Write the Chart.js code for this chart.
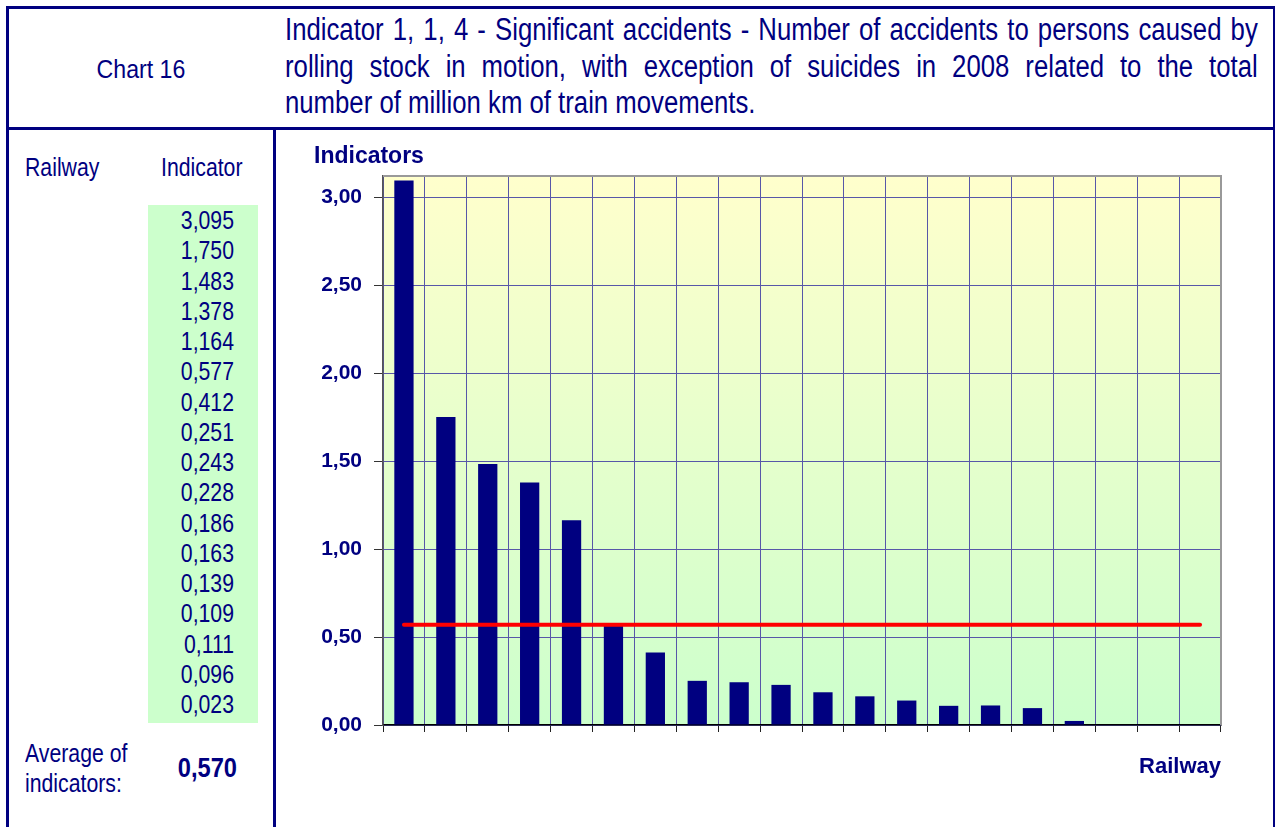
<!DOCTYPE html>
<html>
<head>
<meta charset="utf-8">
<script src="https://cdn.jsdelivr.net/npm/chart.js@4"></script>
<style>
  body { margin: 0; width: 1275px; height: 827px; overflow: hidden; background: #fff; position: relative;
         font-family: "Liberation Sans", Arial, sans-serif; color: #000080; }
  .ln { position: absolute; background: #000080; }
  .txt { position: absolute; font-size: 25px; line-height: 30px; white-space: nowrap;
         transform: scaleX(0.85); transform-origin: left top; }
  #title { position: absolute; left: 285px; top: 12px; width: 1172px; font-size: 31px; line-height: 36.6px;
           transform: scaleX(0.83); transform-origin: left top; }
  #title div { text-align: justify; text-align-last: justify; white-space: nowrap; }
  #title div.last { text-align: left; text-align-last: left; }
  #values { position: absolute; left: 148px; top: 205px; width: 110px; height: 518px; background: #ccffcc; }
  #values div { height: 30.25px; line-height: 30.25px; font-size: 25px; text-align: right; padding-right: 24px;
                transform: scaleX(0.85); transform-origin: 86px 0; }
  #wrap { position: absolute; left: 300px; top: 130px; width: 935px; height: 697px; }
</style>
</head>
<body>
<div class="ln" style="left:6px;top:6px;width:1270px;height:3px"></div>
<div class="ln" style="left:6px;top:6px;width:3px;height:830px"></div>
<div class="ln" style="left:1273px;top:6px;width:3px;height:830px"></div>
<div class="ln" style="left:6px;top:127px;width:1270px;height:3px"></div>
<div class="ln" style="left:273px;top:127px;width:3px;height:710px"></div>

<div class="txt" style="left:9px;width:264px;top:54px;font-size:26px;text-align:center;transform:scaleX(0.89);transform-origin:center top">Chart 16</div>
<div id="title">
  <div>Indicator 1, 1, 4 - Significant accidents - Number of accidents to persons caused by</div>
  <div>rolling stock in motion, with exception of suicides in 2008 related to the total</div>
  <div class="last">number of million km of train movements.</div>
</div>

<div class="txt" style="left:25px;top:152px">Railway</div>
<div class="txt" style="left:161px;top:152px">Indicator</div>
<div id="values"></div>
<div class="txt" style="left:25px;top:738px">Average of<br>indicators:</div>
<div class="txt" style="left:137px;width:100px;top:753px;text-align:right;font-weight:bold;font-size:28px;transform:scaleX(0.845);transform-origin:right top">0,570</div>

<div id="wrap"><canvas id="myChart"></canvas></div>

<script>
const railways = ['R1', 'R2', 'R3', 'R4', 'R5', 'R6', 'R7', 'R8', 'R9', 'R10',
                  'R11', 'R12', 'R13', 'R14', 'R15', 'R16', 'R17', 'R18', 'R19', 'R20'];
const indicators = [3.095, 1.750, 1.483, 1.378, 1.164, 0.577, 0.412, 0.251, 0.243, 0.228,
                    0.186, 0.163, 0.139, 0.109, 0.111, 0.096, 0.023, null, null, null];
const average = [0.570, 0.570, 0.570, 0.570, 0.570, 0.570, 0.570, 0.570, 0.570, 0.570,
                 0.570, 0.570, 0.570, 0.570, 0.570, 0.570, 0.570, 0.570, 0.570, 0.570];
const yTicks = [0, 0.5, 1.0, 1.5, 2.0, 2.5, 3.0];

const navy = '#000080';
const gridBlue = '#5757a8';
const fmt = (v, d) => v.toFixed(d).replace('.', ',');

// table on the left
const box = document.getElementById('values');
indicators.forEach(v => {
    if (v === null) return;
    const row = document.createElement('div');
    row.textContent = fmt(v, 3);
    box.appendChild(row);
});

const plotFrame = {
    id: 'plotFrame',
    beforeDraw(chart) {
        const { ctx, chartArea: a } = chart;
        const g = ctx.createLinearGradient(0, a.top, 0, a.bottom);
        g.addColorStop(0, '#ffffcc');
        g.addColorStop(1, '#ccffcc');
        ctx.save();
        ctx.fillStyle = g;
        ctx.fillRect(a.left, a.top, a.right - a.left, a.bottom - a.top);
        ctx.restore();
    },
    afterDraw(chart) {
        const { ctx, chartArea: a } = chart;
        ctx.save();
        ctx.strokeStyle = '#999999';
        ctx.lineWidth = 2;
        ctx.beginPath();
        ctx.moveTo(a.left, a.top);
        ctx.lineTo(a.right, a.top);
        ctx.lineTo(a.right, a.bottom);
        ctx.stroke();
        ctx.restore();
    }
};

const data = {
    labels: railways,
    datasets: [
    {
        type: 'line',
        label: 'Average',
        data: average,
        borderColor: '#ff0000',
        borderWidth: 4,
        borderCapStyle: 'round',
        pointRadius: 0,
        order: 0
    },
    {
        type: 'bar',
        label: 'Indicator',
        data: indicators,
        backgroundColor: navy,
        barPercentage: 0.46,
        categoryPercentage: 1.0,
        order: 1
    }]
};

const config = {
    type: 'bar',
    data: data,
    options: {
        responsive: true,
        maintainAspectRatio: false,
        animation: false,
        layout: { padding: { left: 14, right: 14, top: 10, bottom: 0 } },
        plugins: {
            legend: { display: false },
            tooltip: { enabled: false },
            title: {
                display: true,
                text: 'Indicators',
                align: 'start',
                color: navy,
                font: { family: '"Liberation Sans", Arial, sans-serif', size: 23, weight: 'bold' },
                padding: { top: 3, bottom: 5.4 }
            }
        },
        scales: {
            x: {
                offset: true,
                grid: { offset: true, color: gridBlue, tickColor: '#222', tickLength: 7 },
                border: { color: '#000', width: 1.5 },
                ticks: { callback: () => '' },
                title: {
                    display: true,
                    text: 'Railway',
                    align: 'end',
                    color: navy,
                    font: { family: '"Liberation Sans", Arial, sans-serif', size: 22, weight: 'bold' },
                    padding: { top: 0, bottom: 47 }
                },
                afterFit(scale) { scale.height = 102; }
            },
            y: {
                min: 0,
                max: 3.12,
                grid: { color: gridBlue, tickColor: '#333', tickLength: 9 },
                border: { color: '#555', width: 1.5 },
                ticks: {
                    color: navy,
                    padding: 12,
                    font: { family: '"Liberation Sans", Arial, sans-serif', size: 21, weight: 'bold' },
                    callback: v => fmt(v, 2)
                },
                afterBuildTicks(scale) { scale.ticks = yTicks.map(v => ({ value: v })); },
                afterFit(scale) { scale.width = 69; }
            }
        }
    },
    plugins: [plotFrame]
};

const myChart = new Chart(document.getElementById('myChart'), config);
</script>
</body>
</html>
